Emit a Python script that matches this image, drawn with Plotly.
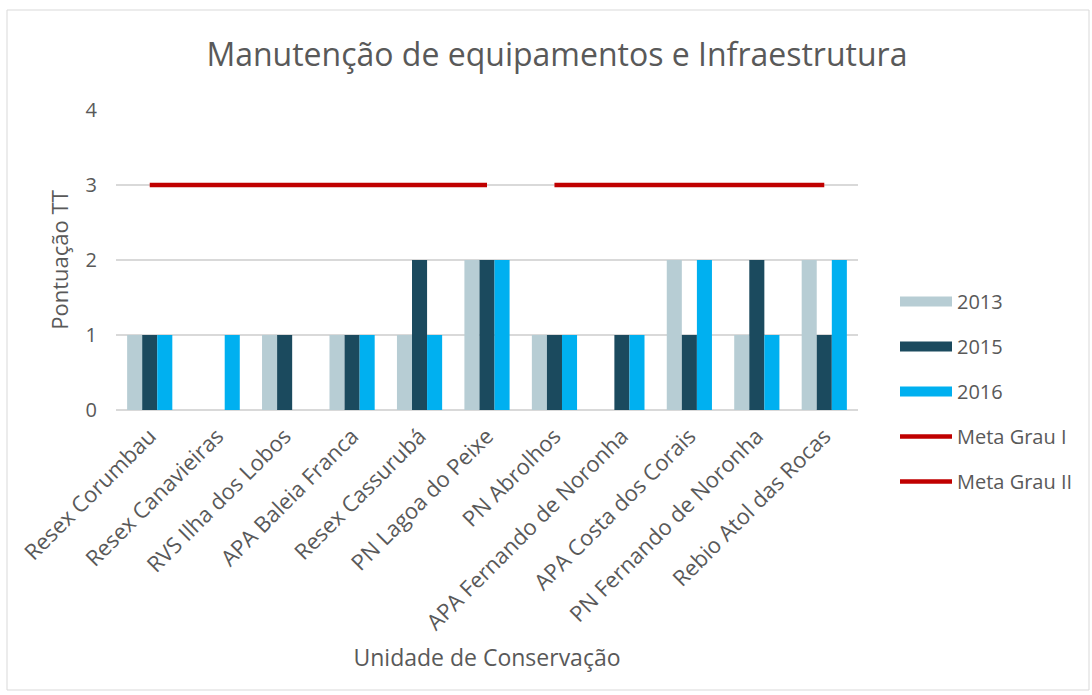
import plotly.graph_objects as go

# data
unidades = ["Resex Corumbau", "Resex Canavieiras", "RVS Ilha dos Lobos", "APA Baleia Franca",
            "Resex Cassurubá", "PN Lagoa do Peixe", "PN Abrolhos", "APA Fernando de Noronha",
            "APA Costa dos Corais", "PN Fernando de Noronha", "Rebio Atol das Rocas"]
v2013 = [1, 0, 1, 1, 1, 2, 1, 0, 2, 1, 2]
v2015 = [1, 0, 1, 1, 2, 2, 1, 1, 1, 2, 1]
v2016 = [1, 1, 0, 1, 1, 2, 1, 1, 2, 1, 2]
meta_grau1 = [3, 3, 3, 3, 3, 3, None, None, None, None, None]
meta_grau2 = [None, None, None, None, None, None, 3, 3, 3, 3, 3]

FONT = "Open Sans"
GRAY = "#595959"

fig = go.Figure()
for nome, vals, cor in [("2013", v2013, "#b7cdd4"), ("2015", v2015, "#1b4a5e"), ("2016", v2016, "#00b0f0")]:
    fig.add_trace(go.Bar(x=unidades, y=vals, name=nome, marker_color=cor,
                         marker_line_width=0, legendgroup=nome, showlegend=False))
    # wide rectangle legend key, like the original
    fig.add_trace(go.Scatter(x=[unidades[0]], y=[None], name=nome, mode="lines",
                             line=dict(color=cor, width=14), legendgroup=nome, hoverinfo="skip"))
for nome, vals in [("Meta Grau I", meta_grau1), ("Meta Grau II", meta_grau2)]:
    fig.add_trace(go.Scatter(x=unidades, y=vals, name=nome, mode="lines",
                             line=dict(color="#c00000", width=4.5), legendgroup=nome))

# chart border (in paper coords of the plot area)
L, R, T, B = 116, 858, 110, 410
W, H = 1092, 695
def px(x): return (x - L) / (R - L)
def py(y): return (B - y) / (B - T)

fig.update_layout(
    width=W, height=H,
    margin=dict(l=L, r=W - R, t=T, b=H - B, autoexpand=False),
    plot_bgcolor="white", paper_bgcolor="white",
    barmode="group", bargap=0.33, bargroupgap=0,
    font=dict(family=FONT, color=GRAY, size=20),
    title=dict(text="Manutenção de equipamentos e Infraestrutura", x=0.51, xref="container",
               xanchor="center", y=1 - 55 / H, yanchor="middle",
               font=dict(size=32, color=GRAY, family=FONT)),
    legend=dict(x=px(895), y=py(282), xanchor="left", yanchor="top",
                tracegroupgap=16, itemwidth=52, font=dict(size=20, color=GRAY)),
    shapes=[dict(type="rect", xref="paper", yref="paper",
                 x0=px(7), x1=px(1089), y0=py(690), y1=py(10),
                 line=dict(color="#d9d9d9", width=1), fillcolor="rgba(0,0,0,0)", layer="below")],
)
fig.update_xaxes(tickangle=-45, showline=False, showgrid=False, ticks="",
                 tickfont=dict(size=22, color=GRAY), automargin=False, ticklabelstandoff=8,
                 title=dict(text="Unidade de Conservação", font=dict(size=23, color=GRAY), standoff=15))
fig.update_yaxes(range=[0, 4], dtick=1, showgrid=True, gridcolor="#d9d9d9", gridwidth=1.5,
                 zeroline=True, zerolinecolor="#d9d9d9", zerolinewidth=1.5, automargin=False,
                 tickfont=dict(size=20, color=GRAY), ticklabelstandoff=18,
                 title=dict(text="Pontuação TT", font=dict(size=22, color=GRAY), standoff=10))

fig.write_html("out.html", post_script="document.body.style.margin='0';",
               config={"displayModeBar": False})
